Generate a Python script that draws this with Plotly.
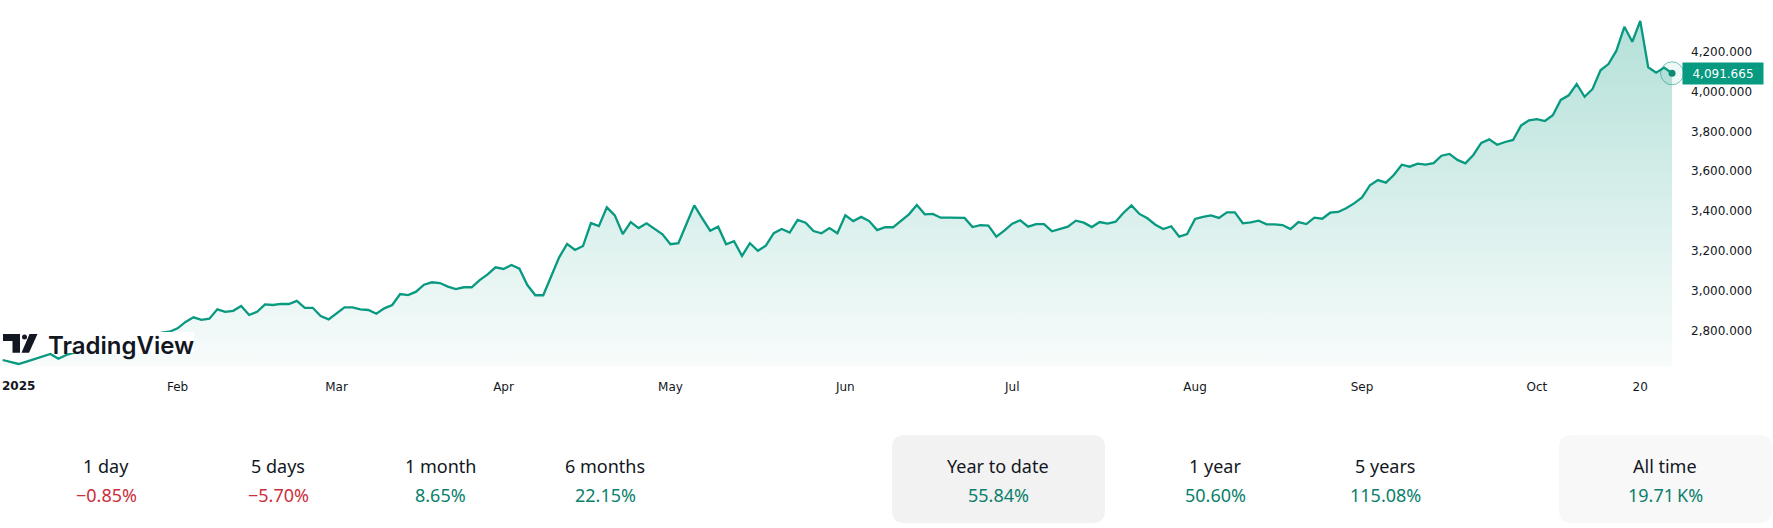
import pandas as pd
import plotly.graph_objects as go

# ---------------- data ----------------
dates = [d for d in pd.bdate_range("2025-01-02", "2025-10-24") if d != pd.Timestamp("2025-04-18")]

values = [
    2653, 2643, 2633, 2645, 2658, 2668, 2683, 2659, 2678,
    2690, 2700, 2697, 2715, 2705, 2740, 2755, 2770, 2740, 2760, 2775,
    2790, 2795, 2812, 2844, 2867, 2854, 2860, 2907, 2895, 2900,
    2924, 2879, 2895, 2932, 2929, 2935, 2934, 2950, 2915, 2915,
    2874, 2857, 2885, 2917, 2917, 2907, 2904, 2885, 2912, 2929,
    2984, 2979, 2996, 3031, 3043, 3039, 3021, 3009, 3018, 3018,
    3054, 3083, 3118, 3110, 3130, 3111, 3029, 2978, 2978, 3074,
    3168, 3235, 3205, 3225, 3340, 3325, 3419, 3379, 3285, 3345,
    3315, 3339, 3312, 3284, 3234, 3239, 3334, 3429, 3364, 3302,
    3322, 3234, 3249, 3175, 3239, 3201, 3227, 3289, 3310, 3292,
    3356, 3342, 3300, 3289, 3315, 3289, 3379, 3350, 3371, 3350,
    3305, 3320, 3319, 3350, 3384, 3431, 3384, 3386, 3367, 3367,
    3366, 3366, 3320, 3330, 3327, 3272, 3302, 3337, 3354, 3322,
    3335, 3335, 3299, 3310, 3322, 3352, 3342, 3320, 3345, 3337,
    3347, 3392, 3429, 3386, 3364, 3332, 3310, 3324, 3272, 3285,
    3361, 3371, 3379, 3366, 3394, 3394, 3339, 3344, 3352, 3334,
    3334, 3330, 3310, 3345, 3335, 3367, 3362, 3392, 3396, 3414,
    3439, 3469, 3530, 3556, 3543, 3581, 3633, 3623, 3638, 3633,
    3641, 3678, 3687, 3657, 3640, 3682, 3742, 3760, 3733, 3747,
    3757, 3829, 3856, 3862, 3852, 3881, 3958, 3981, 4038, 3974,
    4013, 4107, 4138, 4205, 4325, 4250, 4354, 4122, 4095, 4120,
    4091.665,
]

tick_dates = ["2025-02-03", "2025-03-03", "2025-04-01", "2025-05-01", "2025-06-02",
              "2025-07-01", "2025-08-01", "2025-09-01", "2025-10-01", "2025-10-20"]
tick_labels = ["Feb", "Mar", "Apr", "May", "Jun", "Jul", "Aug", "Sep", "Oct", "20"]
year_label = "2025"

y_ticks = [2800, 3000, 3200, 3400, 3600, 3800, 4000, 4200]

periods = ["1 day", "5 days", "1 month", "6 months", "Year to date", "1 year", "5 years", "All time"]
changes = ["\u22120.85%", "\u22125.70%", "8.65%", "22.15%", "55.84%", "50.60%", "115.08%", "19.71\u202fK%"]
negative = [True, True, False, False, False, False, False, False]

# ---------------- layout constants ----------------
W, H = 1773, 528
PW, PH = 1680, 366           # plot area size in pixels
GREEN = "#089981"
TEXT = "#131722"
POS = "#0a7f6c"
NEG = "#cc2f3c"
FONT = "DejaVu Sans"
BFONT = "Noto Sans"

idx = list(range(len(values)))
date_pos = {d.strftime("%Y-%m-%d"): i for i, d in enumerate(dates)}
tick_idx = [date_pos[d] for d in tick_dates]

x0 = -0.34
x1 = 211.0
y0, y1 = 2622.9, 4459.4


def px(x):
    return x / PW


def py(y):
    return (PH - y) / PH


fig = go.Figure()
fig.add_trace(go.Scatter(
    x=idx, y=values, mode="lines",
    line=dict(color=GREEN, width=2.3),
    fill="tozeroy",
    fillgradient=dict(type="vertical", start=y0, stop=y1,
                      colorscale=[[0, "rgba(8,153,129,0.03)"], [1, "rgba(8,153,129,0.32)"]]),
    text=[d.strftime("%b %d, %Y") for d in dates],
    hoverinfo="text+y",
    showlegend=False,
))
# last point ring + dot
fig.add_trace(go.Scatter(
    x=[idx[-1]], y=[values[-1]], mode="markers",
    marker=dict(size=23, color="rgba(8,153,129,0.07)", line=dict(width=1, color="rgba(8,153,129,0.55)")),
    cliponaxis=False, showlegend=False, hoverinfo="skip",
))
fig.add_trace(go.Scatter(
    x=[idx[-1]], y=[values[-1]], mode="markers",
    marker=dict(size=7, color="#0b8a74"),
    cliponaxis=False, showlegend=False, hoverinfo="skip",
))

shapes = []
annotations = []

# price label
annotations.append(dict(
    xref="paper", yref="y", x=px(1682), y=values[-1], xanchor="left", yanchor="middle",
    text=f"{values[-1]:,.3f}", showarrow=False, bgcolor=GREEN, width=76, height=17,
    borderpad=2, align="center", font=dict(family=FONT, size=12, color="white"),
))

# year label on x axis
annotations.append(dict(
    xref="paper", yref="paper", x=0, y=py(386), xanchor="left", yanchor="middle",
    text=f"<b>{year_label}</b>", showarrow=False, font=dict(family=FONT, size=12, color=TEXT),
))


# TradingView watermark (drawn over the line, with a white backing)
def poly(pts, color):
    d = "M " + " L ".join(f"{px(a):.6f},{py(b):.6f}" for a, b in pts) + " Z"
    return dict(type="path", xref="paper", yref="paper", path=d, fillcolor=color,
                line=dict(width=0), layer="above")


shapes.append(dict(type="rect", xref="paper", yref="paper", x0=px(66), x1=px(194), y0=py(353), y1=py(332),
                   fillcolor="white", line=dict(width=0), layer="above"))
shapes.append(poly([(3, 334), (20, 334), (20, 352.7), (12.5, 352.7), (12.5, 341), (3, 341)], TEXT))
shapes.append(poly([(29.5, 334), (37.5, 334), (29, 352.7), (21.5, 352.7)], TEXT))
shapes.append(dict(type="circle", xref="paper", yref="paper", x0=px(22), x1=px(27), y0=py(339.5), y1=py(334.5),
                   fillcolor=TEXT, line=dict(width=0), layer="above"))
annotations.append(dict(
    xref="paper", yref="paper", x=px(46), y=py(345), xanchor="left", yanchor="middle",
    text="TradingView", showarrow=False, font=dict(family="Inter", size=24, color=TEXT, weight=600),
))


# rounded boxes
def rrect(xa, xb, ya, yb, r, color):
    rx, ry = r / PW, r / PH
    X0, X1, Y0, Y1 = px(xa), px(xb), py(yb), py(ya)
    d = (f"M {X0+rx},{Y1} L {X1-rx},{Y1} Q {X1},{Y1} {X1},{Y1-ry} "
         f"L {X1},{Y0+ry} Q {X1},{Y0} {X1-rx},{Y0} L {X0+rx},{Y0} Q {X0},{Y0} {X0},{Y0+ry} "
         f"L {X0},{Y1-ry} Q {X0},{Y1} {X0+rx},{Y1} Z")
    return dict(type="path", xref="paper", yref="paper", path=d, fillcolor=color,
                line=dict(width=0), layer="below")


shapes.append(rrect(892, 1105, 435, 523, 13, "#f2f2f2"))
shapes.append(rrect(1559, 1772, 435, 523, 13, "#f8f8f8"))

centers = [106, 278, 440, 605, 998, 1215, 1385, 1665]
for c, p, v, neg in zip(centers, periods, changes, negative):
    annotations.append(dict(xref="paper", yref="paper", x=px(c), y=py(466), xanchor="center", yanchor="middle",
                            text=p, showarrow=False, font=dict(family=BFONT, size=18, color=TEXT)))
    annotations.append(dict(xref="paper", yref="paper", x=px(c), y=py(495), xanchor="center", yanchor="middle",
                            text=v, showarrow=False, font=dict(family=BFONT, size=18, color=NEG if neg else POS)))

fig.update_layout(
    width=W, height=H,
    margin=dict(l=0, r=W - PW, t=0, b=H - PH, pad=0),
    paper_bgcolor="white", plot_bgcolor="white",
    xaxis=dict(range=[x0, x1], tickvals=tick_idx, ticktext=tick_labels, showgrid=False, zeroline=False,
               showline=False, ticks="", ticklabelstandoff=12,
               tickfont=dict(family=FONT, size=12, color=TEXT)),
    yaxis=dict(range=[y0, y1], tickvals=y_ticks, tickformat=",.3f", side="right", showgrid=False,
               zeroline=False, showline=False, ticks="", ticklabelstandoff=10,
               tickfont=dict(family=FONT, size=12, color=TEXT)),
    shapes=shapes, annotations=annotations,
    hovermode="closest",
)

fig.write_html("out.html")
